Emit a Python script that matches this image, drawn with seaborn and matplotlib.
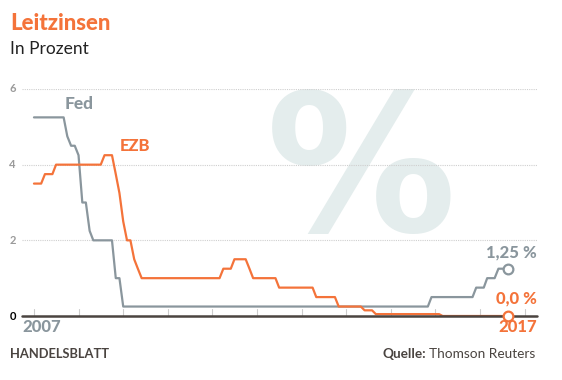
import numpy as np
import pandas as pd
import seaborn as sns
import matplotlib.pyplot as plt

# Leitzinsen (in Prozent), Eckpunkte der Kurven
fed_dates = ["2007-01-01", "2007-09-01", "2007-10-01", "2007-11-01", "2007-12-01", "2008-01-01",
             "2008-02-01", "2008-03-01", "2008-04-01", "2008-05-01", "2008-10-01", "2008-11-01",
             "2008-12-01", "2009-01-01", "2015-11-01", "2015-12-01", "2016-11-01", "2016-12-01",
             "2017-02-01", "2017-03-01", "2017-05-01", "2017-06-01", "2017-08-15"]
fed_rates = [5.25, 5.25, 4.75, 4.50, 4.50, 4.25,
             3.00, 3.00, 2.25, 2.00, 2.00, 1.00,
             1.00, 0.25, 0.25, 0.50, 0.50, 0.75,
             0.75, 1.00, 1.00, 1.25, 1.25]

ezb_dates = ["2007-01-01", "2007-03-01", "2007-04-01", "2007-06-01", "2007-07-01", "2008-07-01",
             "2008-08-01", "2008-10-01", "2008-11-01", "2008-12-01", "2009-01-01", "2009-02-01",
             "2009-03-01", "2009-04-01", "2009-05-01", "2009-06-01", "2011-03-01", "2011-04-01",
             "2011-06-01", "2011-07-01", "2011-10-01", "2011-11-01", "2011-12-01", "2012-06-01",
             "2012-07-01", "2013-04-01", "2013-05-01", "2013-10-01", "2013-11-01", "2014-05-01",
             "2014-06-01", "2014-08-01", "2014-09-01", "2016-02-01", "2016-03-01", "2017-08-15"]
ezb_rates = [3.50, 3.50, 3.75, 3.75, 4.00, 4.00,
             4.25, 4.25, 3.75, 3.25, 2.50, 2.00,
             2.00, 1.50, 1.25, 1.00, 1.00, 1.25,
             1.25, 1.50, 1.50, 1.25, 1.00, 1.00,
             0.75, 0.75, 0.50, 0.50, 0.25, 0.25,
             0.15, 0.15, 0.05, 0.05, 0.00, 0.00]

years = list(range(2007, 2019))
yticks = [0, 2, 4, 6]

GRAY = "#8a969d"
ORANGE = "#f4733a"
DARK = "#4a4440"

fed = pd.DataFrame({"Datum": pd.to_datetime(fed_dates), "Zins": fed_rates, "Bank": "Fed"})
ezb = pd.DataFrame({"Datum": pd.to_datetime(ezb_dates), "Zins": ezb_rates, "Bank": "EZB"})
df = pd.concat([fed, ezb], ignore_index=True)

sns.set_style("white")
plt.rcParams["font.family"] = ["Lato", "DejaVu Sans"]

fig = plt.figure(figsize=(5.62, 3.8), dpi=100)
ax = fig.add_axes([22 / 562, (380 - 316) / 380, 515 / 562, 227 / 380])

# grosses Prozentzeichen im Hintergrund
ax.text(361 / 562, 1.0 - 178 / 380, "%", transform=fig.transFigure, ha="center", va="center",
        fontsize=137, fontweight="bold", color="#e4eded", family="DejaVu Sans", zorder=0)

sns.lineplot(data=df, x="Datum", y="Zins", hue="Bank", palette={"Fed": GRAY, "EZB": ORANGE},
             linewidth=1.6, legend=False, ax=ax, zorder=3)

t0 = pd.Timestamp("2007-01-01")
ax.set_xlim(t0 - pd.Timedelta(days=98), t0 + pd.Timedelta(days=int(11.28 * 365.25)))
ax.set_ylim(0, 6)

for y in yticks[1:]:
    ax.axhline(y, color="#cfcfcf", lw=0.8, ls=(0, (1, 1)), zorder=1)
for yr in years:
    ax.plot([pd.Timestamp(f"{yr}-01-01")] * 2, [0, 0.18], color="#cccccc", lw=0.8, zorder=1)
ax.axhline(0, color=DARK, lw=1.8, zorder=4, clip_on=False)

for s in ax.spines.values():
    s.set_visible(False)
ax.set_xticks([])
ax.set_yticks([])
ax.set_xlabel("")
ax.set_ylabel("")

# y-Beschriftung
for y in yticks:
    ax.text(-0.012, y, str(y), transform=ax.get_yaxis_transform(), ha="right", va="center",
            fontsize=8, fontweight="bold", color="black" if y == 0 else "#9a9a9a")

# Endpunkte
end = pd.Timestamp(fed_dates[-1])
ax.plot([end], [fed_rates[-1]], "o", ms=7, mfc="white", mec=GRAY, mew=1.6, zorder=5, clip_on=False)
ax.plot([end], [ezb_rates[-1]], "o", ms=7, mfc="white", mec=ORANGE, mew=1.6, zorder=5, clip_on=False)

# Beschriftungen
fig.text(65 / 562, 1 - 104 / 380, "Fed", fontsize=12.5, fontweight="black", color=GRAY, va="center")
fig.text(120 / 562, 1 - 146 / 380, "EZB", fontsize=12, fontweight="black", color=ORANGE, va="center")
fig.text(537 / 562, 1 - 252 / 380, "1,25 %", fontsize=12, fontweight="black", color=GRAY,
         ha="right", va="center")
fig.text(537 / 562, 1 - 298 / 380, "0,0 %", fontsize=12, fontweight="black", color=ORANGE,
         ha="right", va="center")
fig.text(22 / 562, 1 - 327 / 380, "2007", fontsize=12, fontweight="black", color=GRAY, va="center")
fig.text(537 / 562, 1 - 327 / 380, "2017", fontsize=12, fontweight="black", color=ORANGE,
         ha="right", va="center")

fig.text(10 / 562, 1 - 23 / 380, "Leitzinsen", fontsize=16, fontweight="black", color=ORANGE, va="center")
fig.text(10 / 562, 1 - 49 / 380, "In Prozent", fontsize=12.5, color="#222222", va="center")

fig.text(10 / 562, 1 - 354 / 380, "HANDELSBLATT", fontsize=9.3, fontweight="bold", color=DARK, va="center")
src = fig.text(535 / 562, 1 - 354 / 380, "Thomson Reuters", fontsize=9.8, color=DARK, ha="right", va="center")
fig.canvas.draw()
bb = src.get_window_extent()
fig.text((bb.x0 - 3) / fig.bbox.width, 1 - 354 / 380, "Quelle:", fontsize=9.8, fontweight="bold",
         color=DARK, ha="right", va="center")

fig.savefig("out.png", dpi=100, facecolor="white")
